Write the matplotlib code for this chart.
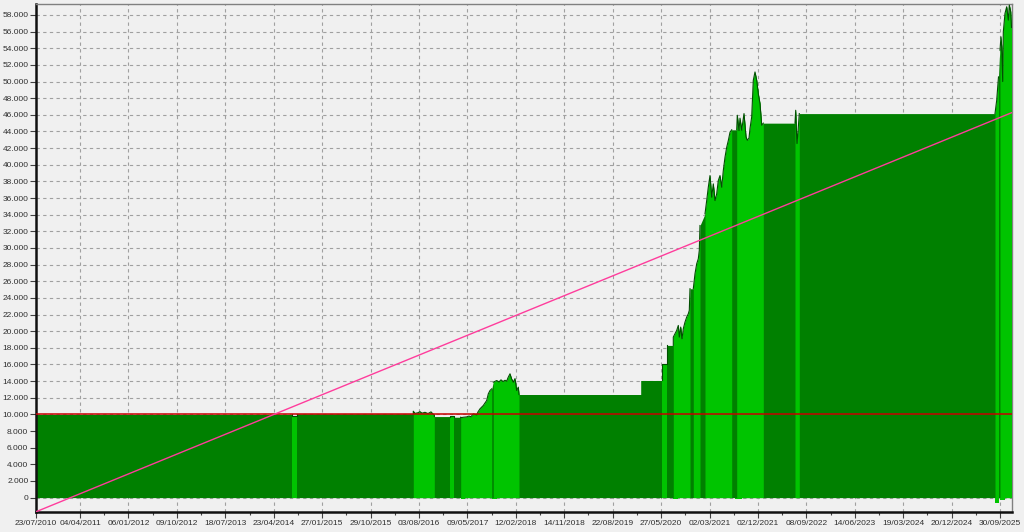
import matplotlib
matplotlib.use("Agg")
import matplotlib.pyplot as plt
import numpy as np
from matplotlib.ticker import FuncFormatter, MultipleLocator, FixedLocator

# ---- data (x = bar index) ----
tick_labels = ["23/07/2010", "04/04/2011", "06/01/2012", "09/10/2012", "18/07/2013",
               "23/04/2014", "27/01/2015", "29/10/2015", "03/08/2016", "09/05/2017",
               "12/02/2018", "14/11/2018", "22/08/2019", "27/05/2020", "02/03/2021",
               "02/12/2021", "08/09/2022", "14/06/2023", "19/03/2024", "20/12/2024",
               "30/09/2025"]
tick_bars = [0, 44, 92.4, 140.8, 189.3, 237.7, 286.1, 334.5, 382.9, 431.4,
             479.8, 528.2, 576.6, 625.0, 673.5, 721.9, 770.3, 818.7, 867.1, 915.6, 964.0]

# equity / balance top curve
eq_x = [0, 255.7, 255.7, 260.7, 260.7, 377.3,
        377.3, 379, 382, 384, 386, 389, 392, 395, 397, 398.3,
        398.3, 414, 414, 418, 418, 424.7,
        424.7, 427, 430.7, 433, 435, 437.3, 440.7, 442, 444, 447.3, 450.7, 452.3, 454, 455.7,
        457.3, 460.7, 463, 465, 467, 469, 470.7, 472, 474, 475.5, 477.3, 479, 480.7, 482.3, 483,
        483, 604.7, 604.7, 625.7,
        625.7, 631, 631, 637.3,
        637.3, 639, 640.7, 642.3, 643.3, 644.7, 646, 647.3, 649, 650.7, 652.3, 653.3, 654,
        657.3, 659, 660.7, 662.3, 663.3, 664, 664, 669,
        670.7, 672.3, 674, 675.7, 677.3, 679, 680.7, 682.3, 684, 685.7, 687.3, 689, 690.7, 692.3, 694, 695.7,
        700.7, 701.3, 703, 704, 705.7, 708, 710, 711.3, 713, 714, 715.7, 717.3, 719, 720.7, 722.3, 724, 725.7, 727.3,
        759, 759.7, 760.3, 761, 762, 763.3,
        959, 960.7, 962.5, 963.3, 964, 965, 965.7, 966.7, 967.3, 969, 970.7, 972.3, 973.3, 974.7, 975.5]
eq_v = [10000, 10000, 9860, 9860, 10070, 10070,
        10380, 10120, 10200, 10330, 10150, 10250, 10100, 10300, 10050, 9950,
        9740, 9740, 9860, 9860, 9660, 9660,
        9590, 9650, 9700, 9800, 9720, 10060, 9950, 10300, 10670, 11070, 11670, 12470, 12870, 13070,
        13870, 14070, 13900, 14150, 13950, 14100, 14000, 14400, 14880, 14300, 13870, 14300, 12870, 13270, 12390,
        12390, 12390, 14075, 14075,
        16080, 16080, 18290, 18290,
        19290, 19690, 20090, 20690, 19290, 20490, 19090, 20290, 21090, 21690, 22090, 22500, 25100,
        25100, 26900, 28100, 28700, 29700, 32700, 32700, 34100,
        35700, 37300, 38700, 36100, 37700, 35700, 36500, 38100, 38700, 37300, 39300, 40900, 42100, 42900, 43900, 44200,
        44200, 45950, 44100, 45600, 44150, 46150, 43350, 42950, 43200, 44350, 45750, 50150, 51150, 50150, 48550, 47350, 44750, 45000,
        45000, 46550, 44500, 42550, 44000, 46150,
        46150, 47750, 50560, 52770, 53770, 55370, 54170, 50000, 55970, 58190, 58990, 57380, 59190, 58400, 56500]

# bars with open positions (start, end)
open_bands = [(255.7, 260.7), (377.3, 398.3), (414, 418), (424.7, 455.7), (457.3, 483),
              (625.7, 631), (637.3, 654), (657.3, 664), (669, 695.7), (700.7, 727.3),
              (759, 763.3), (959, 962.5), (964, 975.5)]
# small excursions below zero (start, end, value)
dips = [(377.3, 382, -100), (424.7, 429, -200), (455.7, 461.3, -130), (637.3, 642.3, -150),
        (699, 705.7, -200), (959, 962.5, -620), (964, 969, -250)]

deposit = 10000
trend_start, trend_end = -1700, 46250

# ---- plot ----
BG = "#F0F0F0"
DARK = "#008000"
BRIGHT = "#00C400"
OUTLINE = "#005000"

fig = plt.figure(figsize=(10.24, 5.32), dpi=100, facecolor=BG)
ax = fig.add_axes([36 / 1024, 20 / 532, 975.5 / 1024, 508 / 532])
ax.set_facecolor(BG)

x = np.array(eq_x)
v = np.array(eq_v)
xmax = x[-1]

ax.fill_between(x, 0, v, color=DARK, lw=0, zorder=2)
for a, b in open_bands:
    m = (x >= a) & (x <= b)
    ax.fill_between(x, 0, v, where=m, color=BRIGHT, lw=0, zorder=3)
    ax.plot(x[m], v[m], color=OUTLINE, lw=0.8, zorder=4)
for a, b, d in dips:
    ax.fill_between([a, b], [d, d], [0, 0], color=BRIGHT, lw=0, zorder=3)

ax.axhline(deposit, color="#C80000", lw=1.1, zorder=5)
ax.plot([0, xmax], [trend_start, trend_end], color="#FF3C9C", lw=1.0, zorder=6)

ax.set_xlim(0, xmax)
ax.set_ylim(-1730, 59320)

ax.yaxis.set_major_locator(MultipleLocator(2000))
ax.yaxis.set_major_formatter(FuncFormatter(lambda val, p: f"{int(round(val)):,}".replace(",", ".")))
ax.xaxis.set_major_locator(FixedLocator(tick_bars))
ax.set_xticklabels(tick_labels)
mids = [(tick_bars[i] + tick_bars[i + 1]) / 2 for i in range(1, len(tick_bars) - 1)]
ax.xaxis.set_minor_locator(FixedLocator(mids))

ax.grid(True, which="major", color="#A0A0A0", linestyle=(0, (3, 3)), lw=0.8, zorder=1)
ax.set_axisbelow(True)

for lab in ax.get_xticklabels() + ax.get_yticklabels():
    lab.set_fontfamily("Liberation Sans")
    lab.set_fontsize(6.0)
    lab.set_color("#303030")
ax.tick_params(axis="both", which="major", length=4, width=0.8, color="#404040", pad=1.5)
ax.tick_params(axis="x", which="minor", length=2.5, width=0.8, color="#404040")

for s in ["left", "bottom"]:
    ax.spines[s].set_linewidth(1.8)
    ax.spines[s].set_color("#101010")
for s in ["top", "right"]:
    ax.spines[s].set_linewidth(1.0)
    ax.spines[s].set_color("#808080")

fig.savefig("out.png", dpi=100, facecolor=BG)
